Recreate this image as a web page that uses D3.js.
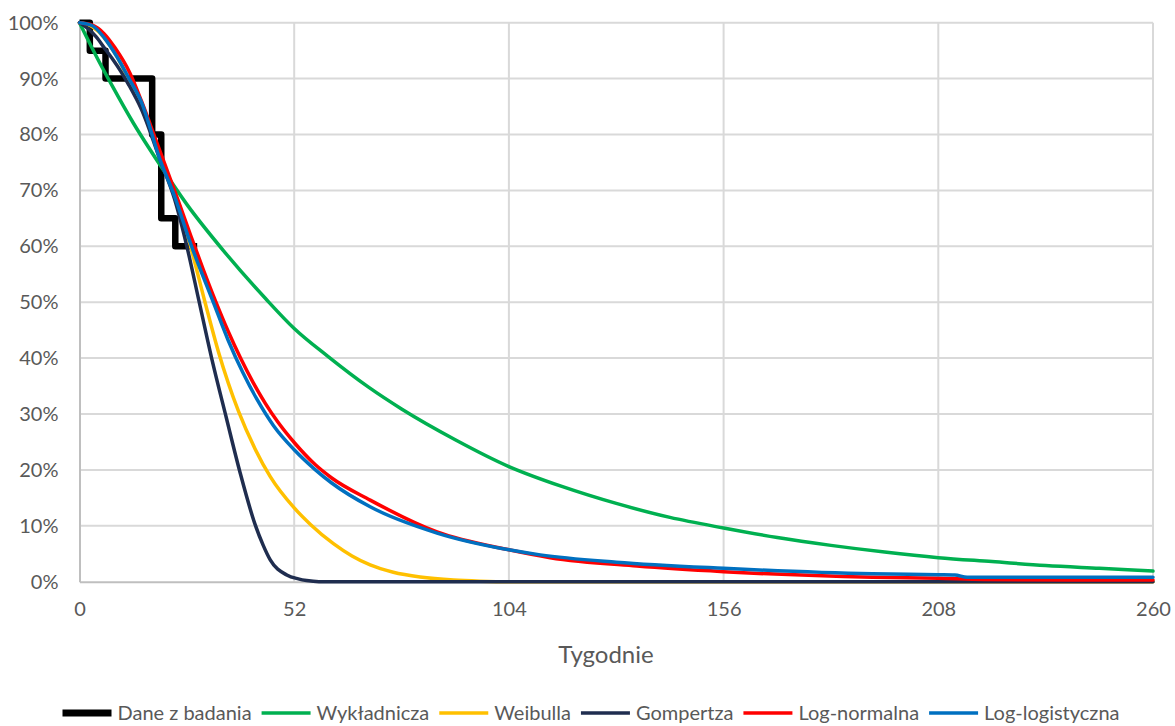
<!DOCTYPE html>
<html>
<head>
<meta charset="utf-8">
<script src="https://cdn.jsdelivr.net/npm/d3@7"></script>
<style>
  html, body { margin: 0; padding: 0; background: #ffffff; }
  svg text { font-family: Lato, "Open Sans", sans-serif; fill: #595959; }
</style>
</head>
<body>
<svg id="chart" width="1175" height="726"></svg>
<script>
// Survival over time (weeks): observed data and fitted parametric models
const xTicks = [0, 52, 104, 156, 208, 260];
const yTicks = [0, 10, 20, 30, 40, 50, 60, 70, 80, 90, 100];

// Observed Kaplan-Meier steps (week of change, survival %)
const obsWeeks  = [0, 2.5, 6.3, 17.6, 19.8, 23.2, 28.5];
const obsValues = [100, 95, 90, 80, 65, 60, 60];

// Exponential model
const expWeeks  = [0, 4, 8, 13, 20, 26, 35, 45, 52, 60, 70, 78, 91, 104, 117, 130, 143, 156, 169, 182, 195, 208, 221, 234, 247, 260];
const expValues = [100, 94.1, 88.6, 82.1, 74, 67.5, 59.1, 50.7, 45.3, 40.4, 34.8, 30.9, 25.4, 20.6, 17.0, 14.0, 11.5, 9.6, 7.9, 6.5, 5.3, 4.3, 3.6, 2.9, 2.4, 1.9];

// Weibull model
const weiWeeks  = [0, 3, 6, 9, 12, 15, 19.5, 23, 26.5, 30.4, 33.7, 38.5, 42.5, 46.2, 52, 56, 61.5, 66, 70.4, 76, 82.5, 90.6, 97, 104, 260];
const weiValues = [100, 99.3, 97.3, 94, 89.7, 85, 76, 69, 61, 50, 41, 30.5, 23.8, 18.8, 13.2, 10.2, 6.8, 4.6, 3.0, 1.7, 0.85, 0.3, 0.1, 0, 0];

// Gompertz model
const gomWeeks  = [0, 2, 4, 6, 8, 10, 12, 15, 19.5, 23, 26, 29, 32, 35.5, 38.9, 42.5, 44.5, 46.2, 50.2, 53, 55, 58, 260];
const gomValues = [100, 99, 97.5, 95.5, 93.5, 91.3, 88.8, 84.5, 75.5, 68.5, 60, 50, 40, 29.5, 19.5, 10.3, 6.5, 3.9, 1.2, 0.5, 0.2, 0, 0];

// Log-normal model
const lnWeeks  = [0, 3, 6, 8.6, 12.2, 15, 19, 24, 27, 30, 33, 36, 39, 42, 45, 48, 52, 57, 61, 70.4, 86.6, 104, 114, 135, 156, 192, 208, 219, 240, 260];
const lnValues = [100, 99.6, 98, 95.5, 91, 86, 78, 68, 61.8, 55.8, 50.1, 44.8, 40, 35.7, 31.9, 28.6, 24.9, 21, 18.6, 14.6, 8.9, 5.7, 4.3, 2.8, 1.8, 0.8, 0.6, 0.4, 0.3, 0.3];

// Log-logistic model
const llWeeks  = [0, 3, 6, 9, 12, 15, 19.5, 23, 26.9, 32.4, 36, 39.5, 43, 47, 52, 57, 61, 70.4, 86.6, 104, 111.6, 130, 156, 192, 208, 212, 215, 260];
const llValues = [100, 99.5, 97.3, 94, 90, 85.8, 75.5, 69, 60.5, 50, 43.2, 37.5, 32.6, 27.9, 23.6, 20.1, 17.7, 13.4, 8.7, 5.7, 4.8, 3.5, 2.4, 1.4, 1.25, 1.2, 0.8, 0.8];

const seriesNames  = ["Dane z badania", "Wykładnicza", "Weibulla", "Gompertza", "Log-normalna", "Log-logistyczna"];
const seriesColors = ["#000000", "#00B050", "#FFC000", "#1F2D4F", "#FF0000", "#0070C0"];

const zip = (w, v) => w.map((t, i) => ({ t, v: v[i] }));
const series = [
  { name: seriesNames[0], color: seriesColors[0], data: zip(obsWeeks, obsValues), width: 6.5, step: true },
  { name: seriesNames[1], color: seriesColors[1], data: zip(expWeeks, expValues), width: 3.5 },
  { name: seriesNames[2], color: seriesColors[2], data: zip(weiWeeks, weiValues), width: 3.5 },
  { name: seriesNames[3], color: seriesColors[3], data: zip(gomWeeks, gomValues), width: 3.5 },
  { name: seriesNames[4], color: seriesColors[4], data: zip(lnWeeks, lnValues), width: 3.5 },
  { name: seriesNames[5], color: seriesColors[5], data: zip(llWeeks, llValues), width: 3.5 }
];

const svg = d3.select("#chart");
const plot = { left: 79.5, right: 1153, top: 22.7, bottom: 581.7 };

const x = d3.scaleLinear().domain([0, 260]).range([plot.left, plot.right]);
const y = d3.scaleLinear().domain([0, 100]).range([plot.bottom, plot.top]);

// Gridlines
const grid = svg.append("g");
grid.selectAll("line.h").data(yTicks.filter(d => d > 0)).join("line")
  .attr("x1", plot.left).attr("x2", plot.right)
  .attr("y1", d => y(d)).attr("y2", d => y(d))
  .attr("stroke", "#d9d9d9").attr("stroke-width", 2);
grid.selectAll("line.v").data(xTicks.filter(d => d > 0)).join("line")
  .attr("x1", d => x(d)).attr("x2", d => x(d))
  .attr("y1", plot.top).attr("y2", plot.bottom)
  .attr("stroke", "#d9d9d9").attr("stroke-width", 2);

// Axes
const yAxis = svg.append("g")
  .attr("transform", `translate(${plot.left},0)`)
  .call(d3.axisLeft(y).tickValues(yTicks).tickFormat(d => d + "%").tickSize(0).tickPadding(21));
const xAxis = svg.append("g")
  .attr("transform", `translate(0,${plot.bottom})`)
  .call(d3.axisBottom(x).tickValues(xTicks).tickFormat(d3.format("d")).tickSize(0).tickPadding(20));
[yAxis, xAxis].forEach(a => {
  a.select(".domain").attr("stroke", "#bfbfbf").attr("stroke-width", 2);
  a.selectAll("text").style("font-size", "20px").style("fill", "#595959")
   .style("font-family", "Lato, 'Open Sans', sans-serif");
});

// Axis title
svg.append("text")
  .attr("x", 606).attr("y", 663)
  .attr("text-anchor", "middle")
  .style("font-size", "24px")
  .text("Tygodnie");

// Series lines
const lineSmooth = d3.line().x(d => x(d.t)).y(d => y(d.v)).curve(d3.curveMonotoneX);
const lineStep = d3.line().x(d => x(d.t)).y(d => y(d.v)).curve(d3.curveStepAfter);

svg.append("g").selectAll("path").data(series).join("path")
  .attr("d", s => (s.step ? lineStep : lineSmooth)(s.data))
  .attr("fill", "none")
  .attr("stroke", s => s.color)
  .attr("stroke-width", s => s.width)
  .attr("stroke-linejoin", "round")
  .attr("stroke-linecap", s => s.step ? "butt" : "round");

// Legend
const legend = svg.append("g");
const legendY = 713;
const lineLen = 49, lineGap = 6, itemGap = 10;
const items = legend.selectAll("g").data(series).join("g");
items.append("line")
  .attr("x1", 0).attr("x2", lineLen)
  .attr("y1", 0).attr("y2", 0)
  .attr("stroke", s => s.color)
  .attr("stroke-width", s => s.step ? 7 : 3.5)
  .attr("stroke-linecap", "butt");
items.append("text")
  .attr("x", lineLen + lineGap)
  .attr("y", 0)
  .attr("dy", "0.35em")
  .style("font-size", "20px")
  .text(s => s.name);

function layoutLegend() {
  const widths = [];
  items.each(function() {
    const t = d3.select(this).select("text").node();
    widths.push(lineLen + lineGap + t.getComputedTextLength());
  });
  const total = d3.sum(widths) + itemGap * (widths.length - 1);
  let cursor = 591 - total / 2;
  items.attr("transform", (s, i) => {
    const tx = cursor;
    cursor += widths[i] + itemGap;
    return `translate(${tx},${legendY})`;
  });
}
layoutLegend();
if (document.fonts && document.fonts.ready) document.fonts.ready.then(layoutLegend);
</script>
</body>
</html>
